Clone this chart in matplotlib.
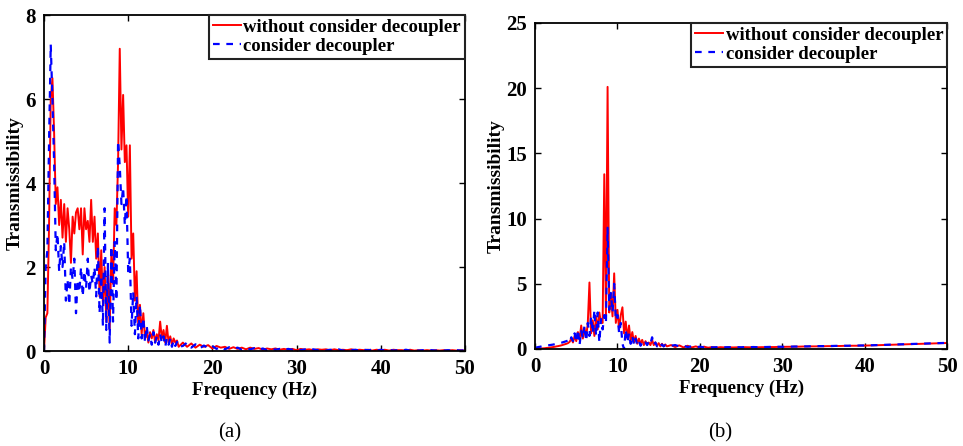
import numpy as np
import matplotlib
matplotlib.use("Agg")
import matplotlib.pyplot as plt

# ---------------- data ----------------
# frequency grids (Hz)
freq_main = np.round(np.arange(0, 16.01, 0.2), 2)
freq_tail = np.round(np.arange(16.5, 50.01, 0.5), 2)

# (a) without consider decoupler
a_without_main = [0, 0.8, 0.9, 3.0, 6.0, 6.5, 5.2, 3.5, 3.9, 3.0, 3.6, 2.7, 3.5, 2.6, 3.4, 2.9,
                  2.1, 3.2, 2.8, 3.3, 3.4, 2.9, 3.4, 2.3, 3.4, 2.9, 3.1, 2.6, 3.6, 2.6, 3.2,
                  2.2, 2.8, 1.3, 2.4, 1.1, 2.0, 0.7, 1.9, 0.5, 2.3, 1.6, 3.4, 3.0, 4.5, 7.2,
                  4.8, 6.1, 4.5, 4.9, 3.2, 4.9, 2.2, 2.8, 1.2, 1.9, 0.6, 1.1, 0.4, 0.9, 0.3,
                  0.5, 0.2, 0.45, 0.3, 0.5, 0.2, 0.4, 0.25, 0.7, 0.3, 0.5, 0.2, 0.6, 0.2, 0.35,
                  0.15, 0.3, 0.2, 0.25, 0.1]
a_without_tail = [0.2, 0.1, 0.18, 0.08, 0.15, 0.1, 0.14, 0.06, 0.12, 0.08, 0.1, 0.05,
                  0.09, 0.05, 0.08, 0.04, 0.08, 0.05, 0.07, 0.03, 0.06, 0.04, 0.06, 0.03,
                  0.05, 0.03, 0.05, 0.02, 0.05, 0.03, 0.04, 0.02, 0.04, 0.03, 0.04, 0.02,
                  0.04, 0.02, 0.03, 0.02, 0.04, 0.02, 0.03, 0.02, 0.03, 0.01, 0.03, 0.02,
                  0.03, 0.01, 0.03, 0.02, 0.02, 0.01, 0.03, 0.01, 0.02, 0.01, 0.02, 0.01,
                  0.02, 0.01, 0.02, 0.01, 0.02, 0.01, 0.02, 0.01]

# (a) consider decoupler
a_with_main = [0, 2.0, 2.4, 5.0, 7.3, 6.0, 4.5, 2.4, 2.8, 1.9, 2.5, 2.0, 2.6, 1.2, 1.7, 1.1,
               2.0, 1.7, 2.2, 0.9, 1.7, 1.4, 2.0, 1.3, 1.9, 1.5, 2.2, 1.4, 1.8, 1.6, 2.0,
               1.3, 2.5, 0.9, 1.8, 0.6, 3.4, 0.5, 2.1, 0.2, 2.5, 0.7, 2.6, 1.2, 5.0, 4.4,
               3.5, 3.9, 3.0, 3.7, 1.9, 2.2, 0.6, 1.4, 0.4, 1.3, 0.3, 1.1, 0.3, 0.8, 0.2,
               0.6, 0.25, 0.4, 0.15, 0.45, 0.2, 0.35, 0.15, 0.4, 0.2, 0.35, 0.1, 0.3, 0.15,
               0.3, 0.1, 0.25, 0.12, 0.22, 0.1]
a_with_tail = [0.12, 0.2, 0.08, 0.16, 0.06, 0.13, 0.07, 0.12, 0.05, 0.1, 0.04, 0.09,
               0.05, 0.08, 0.03, 0.07, 0.04, 0.07, 0.03, 0.06, 0.02, 0.06, 0.03, 0.05,
               0.02, 0.05, 0.03, 0.05, 0.02, 0.04, 0.01, 0.04, 0.02, 0.04, 0.01, 0.03,
               0.02, 0.04, 0.01, 0.03, 0.02, 0.03, 0.01, 0.03, 0.02, 0.03, 0.01, 0.03,
               0.01, 0.03, 0.01, 0.02, 0.01, 0.03, 0.01, 0.02, 0.01, 0.02, 0.01, 0.02,
               0.01, 0.02, 0.01, 0.02, 0.01, 0.02, 0.01, 0.02]

# (b) without consider decoupler
b_without_main = [0, 0.01, 0.02, 0.03, 0.04, 0.05, 0.06, 0.08, 0.09, 0.11, 0.13, 0.15, 0.17,
                  0.2, 0.22, 0.25, 0.28, 0.32, 0.36, 0.4, 0.45, 0.55, 0.8, 0.5, 1.0, 0.6,
                  1.3, 0.7, 1.8, 0.8, 1.6, 0.9, 2.0, 5.1, 1.2, 2.2, 1.0, 2.5, 1.5, 2.8, 2.0,
                  2.0, 13.4, 2.4, 20.1, 2.8, 4.2, 2.5, 5.8, 2.0, 3.0, 1.5, 2.6, 3.2, 1.2,
                  2.1, 0.8, 1.8, 0.6, 1.3, 0.5, 1.0, 0.4, 0.8, 0.4, 0.7, 0.3, 0.6, 0.35, 0.5,
                  0.3, 0.7, 0.3, 0.5, 0.25, 0.45, 0.2, 0.4, 0.2, 0.35, 0.2]
b_without_tail = [0.3, 0.15, 0.28, 0.12, 0.25, 0.12, 0.2, 0.1, 0.18, 0.1, 0.15, 0.1,
                  0.14, 0.12, 0.13, 0.12, 0.13, 0.12, 0.14, 0.13, 0.14, 0.13, 0.14, 0.14,
                  0.15, 0.15, 0.16, 0.16, 0.17, 0.17, 0.18, 0.18, 0.19, 0.19, 0.2, 0.2,
                  0.21, 0.21, 0.22, 0.22, 0.23, 0.23, 0.24, 0.24, 0.25, 0.25, 0.26, 0.26,
                  0.27, 0.28, 0.29, 0.3, 0.31, 0.32, 0.33, 0.34, 0.35, 0.36, 0.37, 0.38,
                  0.39, 0.4, 0.41, 0.42, 0.43, 0.44, 0.45, 0.46]

# (b) consider decoupler
b_with_main = [0.1, 0.12, 0.15, 0.17, 0.2, 0.22, 0.24, 0.26, 0.28, 0.3, 0.32, 0.34, 0.37,
               0.4, 0.42, 0.45, 0.48, 0.52, 0.56, 0.6, 0.65, 0.5, 0.9, 0.6, 1.2, 0.5, 1.5,
               0.3, 1.4, 0.8, 1.8, 0.6, 2.0, 1.0, 2.5, 1.2, 3.0, 1.0, 2.8, 0.5, 2.3, 1.5,
               2.6, 2.0, 9.3, 3.0, 4.3, 2.8, 5.0, 2.2, 2.6, 1.2, 2.0, 0.4, 0.0, 1.5, 0.5,
               1.2, 0.4, 1.0, 0.3, 0.8, 0.3, 0.6, 0.25, 0.5, 0.3, 0.5, 0.3, 0.6, 0.4, 0.9,
               0.3, 0.5, 0.2, 0.4, 0.2, 0.35, 0.2, 0.3, 0.2]
b_with_tail = [0.25, 0.3, 0.2, 0.25, 0.15, 0.2, 0.12, 0.18, 0.12, 0.15, 0.12, 0.14,
               0.15, 0.13, 0.14, 0.13, 0.14, 0.13, 0.15, 0.14, 0.15, 0.14, 0.15, 0.15,
               0.16, 0.16, 0.17, 0.17, 0.18, 0.18, 0.19, 0.19, 0.2, 0.2, 0.21, 0.21,
               0.22, 0.22, 0.23, 0.23, 0.24, 0.24, 0.25, 0.25, 0.26, 0.26, 0.27, 0.27,
               0.28, 0.29, 0.3, 0.31, 0.32, 0.33, 0.34, 0.35, 0.36, 0.37, 0.38, 0.39,
               0.4, 0.41, 0.42, 0.43, 0.44, 0.45, 0.46, 0.47]

legend_labels = ["without consider decoupler", "consider decoupler"]
panel_labels = ["(a)", "(b)"]
x_ticks = [0, 10, 20, 30, 40, 50]
a_yticks = [0, 2, 4, 6, 8]
b_yticks = [0, 5, 10, 15, 20, 25]

# ---------------- plot ----------------
plt.rcParams['font.family'] = ['Liberation Serif', 'DejaVu Serif']
fig = plt.figure(figsize=(9.63, 4.46), dpi=100)

freq = np.concatenate([freq_main, freq_tail])
panels = [
    (fig.add_axes([0.0457, 0.213, 0.437, 0.753]),
     np.concatenate([a_without_main, a_without_tail]),
     np.concatenate([a_with_main, a_with_tail]), a_yticks, panel_labels[0], 0.239),
    (fig.add_axes([0.5556, 0.2175, 0.428, 0.731]),
     np.concatenate([b_without_main, b_without_tail]),
     np.concatenate([b_with_main, b_with_tail]), b_yticks, panel_labels[1], 0.748),
]

for ax, y_red, y_blue, yt, plab, px in panels:
    ax.plot(freq, y_red, color='#ff0000', lw=1.4, label=legend_labels[0])
    ax.plot(freq, y_blue, color='#0000ff', lw=1.6, ls=(0, (3, 3)),
            label=legend_labels[1])
    ax.set_xlim(0, 50)
    ax.set_ylim(yt[0], yt[-1])
    ax.set_xticks(x_ticks)
    ax.set_yticks(yt)
    ax.tick_params(direction='in', top=True, right=True, length=4, width=1.0,
                   labelsize=15, pad=6)
    for lab in ax.get_xticklabels() + ax.get_yticklabels():
        lab.set_fontweight('bold')
    for s in ax.spines.values():
        s.set_linewidth(1.3)
    ax.set_xlabel("Frequency (Hz)", fontsize=13.5, fontweight='bold', labelpad=2)
    ax.set_ylabel("Transmissibility", fontsize=14, fontweight='bold', labelpad=1)
    leg = ax.legend(loc='upper right', borderaxespad=0, fancybox=False,
                    handlelength=1.5, handletextpad=0.15, borderpad=0.2,
                    labelspacing=0.1, prop={'weight': 'bold', 'size': 13.5})
    leg.get_frame().set_edgecolor('#222222')
    leg.get_frame().set_linewidth(1.5)
    leg.get_frame().set_alpha(1)
    fig.text(px, 0.03, plab, fontsize=15, ha='center', va='center')

fig.savefig("out.png", dpi=100)
